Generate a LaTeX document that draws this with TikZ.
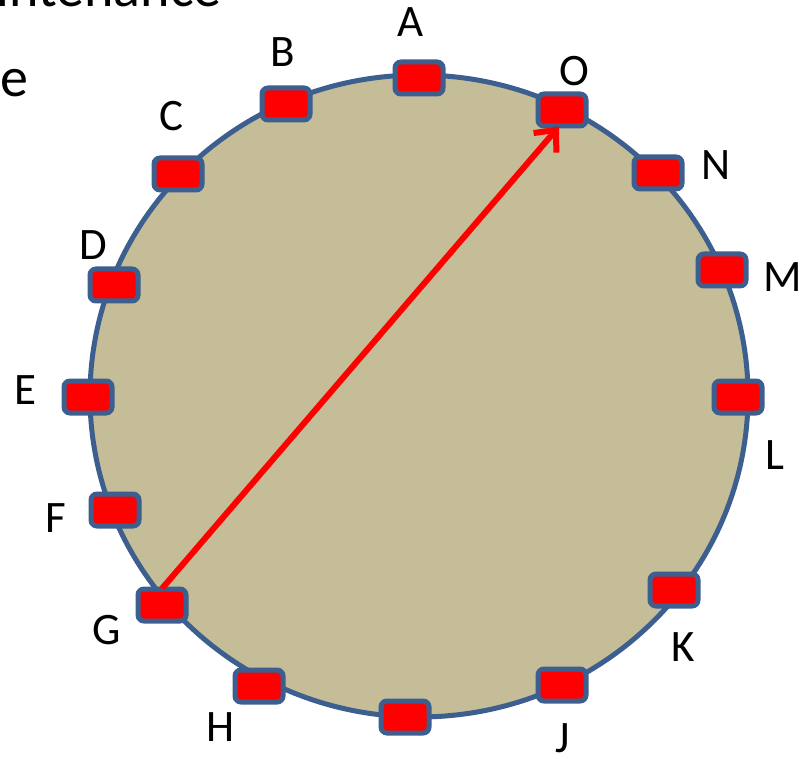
\documentclass[tikz,border=0pt]{standalone}
\usepackage{fontspec}
\setmainfont{Carlito}
\usetikzlibrary{arrows.meta}
\definecolor{ringblue}{HTML}{3C5F8F}
\definecolor{tan}{HTML}{C4BD97}
\tikzset{
  peer/.style={draw=ringblue, line width=5pt, fill=red, rounded corners=6pt,
    minimum width=48pt, minimum height=32pt, inner sep=0pt},
  lbl/.style={font=\fontsize{45}{45}\selectfont, inner sep=0pt},
  big/.style={font=\fontsize{56}{56}\selectfont, inner sep=0pt},
  ring/.style={draw=ringblue, line width=5pt, fill=tan},
  jump/.style={draw=red, line width=6pt, -{Straight Barb[length=17pt,width=30pt,line width=6pt]}}
}
\begin{document}
\begin{tikzpicture}[x=1pt,y=-1pt]
\useasboundingbox (0,0) rectangle (803,759);
\clip (0,0) rectangle (803,759);
% partial slide text
\node[big, anchor=base east] (title) at (222,7) {Maintenance};
\node[big, anchor=base west] (sub) at (0,97) {e};
% ring
\draw[ring] (419,396) ellipse [x radius=329, y radius=321];
% peers
\node[peer] (A) at (419,78) {};
\node[peer] (B) at (286,104) {};
\node[peer] (C) at (178,174) {};
\node[peer] (D) at (114,285) {};
\node[peer] (E) at (88,397) {};
\node[peer] (F) at (115,510) {};
\node[peer] (G) at (162,605) {};
\node[peer] (H) at (259,686) {};
\node[peer] (I) at (405,717) {};
\node[peer] (J) at (562,685) {};
\node[peer] (K) at (674,590) {};
\node[peer] (L) at (738,397) {};
\node[peer] (M) at (722,270) {};
\node[peer] (N) at (658,173) {};
\node[peer] (O) at (562,110) {};
% arrow
\draw[jump] ([yshift=-2pt]G.north) -- ([xshift=-3pt,yshift=2pt]O.south);
% labels
\node[lbl] (lA) at (411,22) {A};
\node[lbl] (lB) at (283,52) {B};
\node[lbl] (lC) at (171,116) {C};
\node[lbl] (lD) at (93,245) {D};
\node[lbl] (lE) at (25,390) {E};
\node[lbl] (lF) at (56,518) {F};
\node[lbl] (lG) at (107,630) {G};
\node[lbl] (lH) at (221,727) {H};
\node[lbl] (lJ) at (563,738) {J};
\node[lbl] (lK) at (683,647) {K};
\node[lbl] (lL) at (775,455) {L};
\node[lbl] (lM) at (783,277) {M};
\node[lbl] (lN) at (716,165) {N};
\node[lbl] (lO) at (574,71) {O};
\end{tikzpicture}
\end{document}
